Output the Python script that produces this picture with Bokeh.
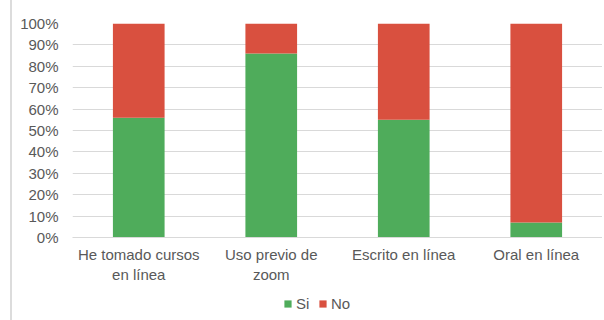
from bokeh.plotting import figure
from bokeh.layouts import column
from bokeh.models import (ColumnDataSource, FactorRange, Range1d, FixedTicker,
                          NumeralTickFormatter, Legend, LegendItem)
from bokeh.embed import file_html
from bokeh.resources import INLINE

# Survey responses: share answering "Si" / "No" per item
categories = ["He tomado cursos\nen línea", "Uso previo de\nzoom", "Escrito en línea", "Oral en línea"]
si = [0.56, 0.86, 0.55, 0.07]
no = [0.44, 0.14, 0.45, 0.93]
series = ["Si", "No"]
colors = ["#4fac5b", "#d9503f"]
y_ticks = [i / 10 for i in range(11)]

source = ColumnDataSource(dict(cat=categories, Si=si, No=no))

FONT = "Liberation Sans"
TEXT = "#595959"
GRID = "#d9d9d9"
FRAME_STYLE = {"margin-left": "10px", "border-left": "2px solid #dcdcdc"}

p = figure(
    width=592, height=290,
    x_range=FactorRange(*categories, range_padding=0),
    y_range=Range1d(0, 1),
    output_backend="svg", toolbar_location=None,
    min_border_left=60, min_border_right=2,
    min_border_top=23, min_border_bottom=53,
    outline_line_color=None,
    styles=FRAME_STYLE,
)

p.vbar_stack(series, x="cat", width=0.39, color=colors, source=source,
             line_color=None)

# y axis: percentages, no axis line or ticks
p.yaxis.ticker = FixedTicker(ticks=y_ticks)
p.yaxis.formatter = NumeralTickFormatter(format="0%")
p.yaxis.axis_line_color = None
p.yaxis.major_tick_line_color = None
p.yaxis.major_tick_out = 0
p.yaxis.major_tick_in = 0
p.yaxis.minor_tick_line_color = None
p.yaxis.major_label_text_font = FONT
p.yaxis.major_label_text_font_size = "15px"
p.yaxis.major_label_text_color = TEXT
p.yaxis.major_label_standoff = 14

# x axis: category labels
p.xaxis.axis_line_color = GRID
p.xaxis.major_tick_line_color = None
p.xaxis.major_tick_out = 0
p.xaxis.major_tick_in = 0
p.xaxis.minor_tick_line_color = None
p.xaxis.major_label_text_font = FONT
p.xaxis.major_label_text_font_size = "15px"
p.xaxis.major_label_text_color = TEXT
p.xaxis.major_label_standoff = 8

p.xgrid.grid_line_color = None
p.ygrid.grid_line_color = GRID
p.ygrid.grid_line_width = 1

# legend strip underneath the chart: same stacked series, with a y window
# that lies above the data so only the legend shows
leg_fig = figure(
    width=592, height=30,
    x_range=p.x_range, y_range=Range1d(5, 6),
    output_backend="svg", toolbar_location=None,
    min_border=0, outline_line_color=None,
    styles=FRAME_STYLE,
)
leg_fig.axis.visible = False
leg_fig.grid.visible = False

stack = leg_fig.vbar_stack(series, x="cat", width=0.39, color=colors,
                           source=source, line_color=None)
swatches = [LegendItem(label=name, renderers=[r]) for name, r in zip(series, stack)]

lg = Legend(items=swatches, orientation="horizontal", location=(211, 8),
            border_line_color=None, background_fill_alpha=0,
            padding=0, margin=0, spacing=2,
            glyph_width=9, glyph_height=9, label_standoff=4,
            label_text_font=FONT, label_text_font_size="15px",
            label_text_color=TEXT)
leg_fig.add_layout(lg)

layout = column(p, leg_fig, spacing=0)

open("out.html", "w").write(file_html(layout, INLINE))
